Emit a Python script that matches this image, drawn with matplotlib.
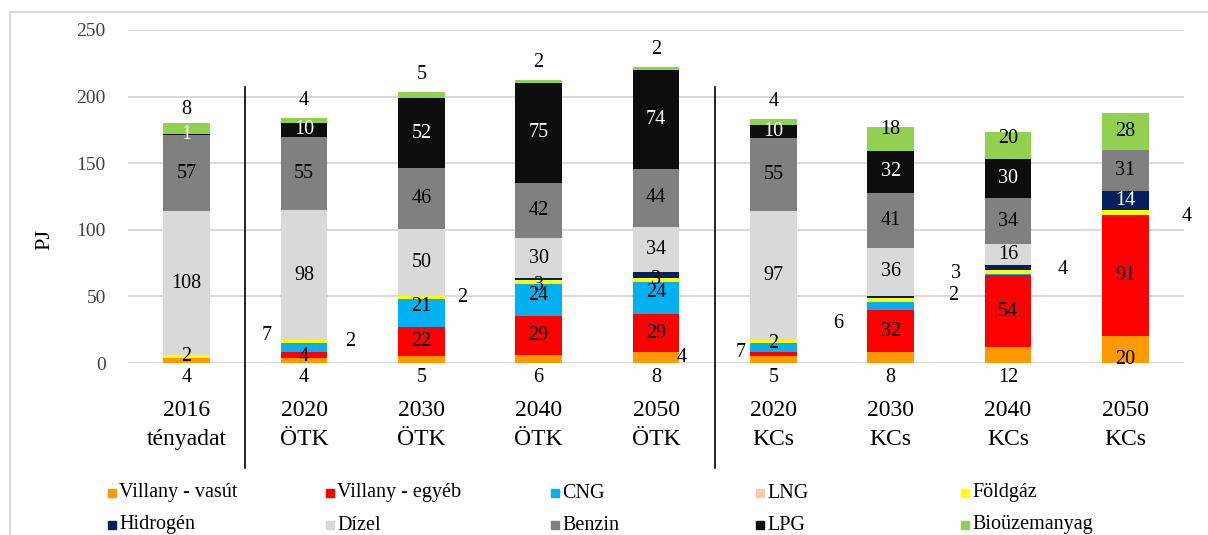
import matplotlib
matplotlib.use('Agg')
import matplotlib.pyplot as plt
import matplotlib.patches as patches
import numpy as np

plt.rcParams['font.family'] = ['Liberation Serif', 'DejaVu Serif']

categories = ['2016\ntényadat', '2020\nÖTK', '2030\nÖTK', '2040\nÖTK', '2050\nÖTK',
              '2020\nKCs', '2030\nKCs', '2040\nKCs', '2050\nKCs']

series_names = ['Villany - vasút', 'Villany - egyéb', 'CNG', 'LNG', 'Földgáz',
                'Hidrogén', 'Dízel', 'Benzin', 'LPG', 'Bioüzemanyag']
colors = ['#FF9900', '#FF0000', '#00B0F0', '#F8CBAD', '#FFFF00',
          '#002060', '#D9D9D9', '#808080', '#0D0D0D', '#92D050']

villany_vasut = [4, 4, 5, 6, 8, 5, 8, 12, 20]
villany_egyeb = [0, 4, 22, 29, 29, 3, 32, 54, 91]
cng = [0, 7, 21, 24, 24, 7, 6, 0.5, 0]
lng = [0, 0, 0, 0, 0, 0, 0, 0, 0]
foldgaz = [2, 2, 2, 3, 3, 2, 2.5, 3, 4]
hidrogen = [0, 0, 0.6, 1.5, 4, 0, 2, 4, 14]
dizel = [108, 98, 50, 30, 34, 97, 36, 16, 0]
benzin = [57, 55, 46, 42, 44, 55, 41, 34, 31]
lpg = [1, 10, 52, 75, 74, 10, 32, 30, 0]
bio = [8, 4, 5, 2, 2, 4, 18, 20, 28]

values = [villany_vasut, villany_egyeb, cng, lng, foldgaz,
          hidrogen, dizel, benzin, lpg, bio]

# where each label goes: c = centre of segment, a = above bar, b = below axis, '' = none
label_at = [
    ['b', 'b', 'b', 'b', 'b', 'b', 'b', 'b', 'c'],
    ['', 'c', 'c', 'c', 'c', '', 'c', 'c', 'c'],
    ['', 'c', 'c', 'c', 'c', 'c', 'c', '', ''],
    [''] * 9,
    ['c', 'c', 'c', 'c', 'c', 'c', '', 'c', 'c'],
    ['', '', '', '', 'c', '', 'c', 'c', 'c'],
    ['c'] * 8 + [''],
    ['c'] * 9,
    ['c'] * 8 + [''],
    ['a', 'a', 'a', 'a', 'a', 'a', 'c', 'c', 'c'],
]
white_labels = ['LPG', 'Hidrogén']

# manual nudges (dx in bar units, dy in PJ) for labels moved off their segment
nudge = {
    ('Villany - vasút', 8): (0, -7),
    ('Villany - egyéb', 1): (0, -1),
    ('CNG', 1): (-0.32, 9),
    ('CNG', 2): (0, 5),
    ('CNG', 3): (0, 4),
    ('CNG', 4): (0, 4),
    ('CNG', 5): (-0.28, -3.5),
    ('CNG', 6): (-0.45, -13),
    ('Földgáz', 1): (0.39, 0.5),
    ('Földgáz', 2): (0.35, 0.5),
    ('Földgáz', 3): (0, -2),
    ('Földgáz', 5): (0, -1),
    ('Földgáz', 7): (-0.44, -0.5),
    ('Földgáz', 8): (0.52, -3),
    ('Hidrogén', 4): (0.22, -62),
    ('Hidrogén', 6): (0.53, 1),
    ('Hidrogén', 7): (0.47, -1.5),
    ('Bioüzemanyag', 0): (0, -3),
    ('Bioüzemanyag', 6): (0, 7),
    ('Bioüzemanyag', 7): (0, 5),
}

fig = plt.figure(figsize=(12.08, 5.35), dpi=100)
ax = fig.add_axes([128 / 1208, 1 - 363 / 535, (1184 - 128) / 1208, (363 - 30) / 535])

x = np.arange(len(categories))
width = 0.4
bottom = np.zeros(len(categories))
for name, vals, col in zip(series_names, values, colors):
    vals = np.array(vals, dtype=float)
    ax.bar(x, vals, width, bottom=bottom, color=col, label=name, zorder=2)
    bottom = bottom + vals
totals = bottom.copy()

bottom = np.zeros(len(categories))
for k, (name, vals) in enumerate(zip(series_names, values)):
    for i, v in enumerate(vals):
        mode = label_at[k][i]
        if mode and v > 0:
            dx, dy = nudge.get((name, i), (0, 0))
            if mode == 'c':
                y = bottom[i] + v / 2
            elif mode == 'a':
                y = totals[i] + 13
            else:
                y = -11
            col = 'white' if (name in white_labels and mode == 'c' and dx == 0) else 'black'
            ax.text(x[i] + dx, y + dy, f'{v:.0f}', ha='center', va='center',
                    fontsize=14.5, color=col, zorder=3, clip_on=False)
    bottom = bottom + np.array(vals, dtype=float)

ax.set_xlim(-0.5, len(categories) - 0.5)
ax.set_ylim(0, 250)
ax.set_yticks(range(0, 251, 50))
ax.yaxis.grid(True, color='#D9D9D9', linewidth=1.5, zorder=0)
ax.set_axisbelow(True)
for s in ax.spines.values():
    s.set_visible(False)
ax.tick_params(axis='y', length=0, labelsize=14, pad=16, labelcolor='#404040')
ax.set_xticks(x)
ax.set_xticklabels(categories, fontsize=17, linespacing=1.45)
ax.tick_params(axis='x', length=0, pad=27)
ax.set_ylabel('PJ', fontsize=16)
ax.yaxis.set_label_coords(-74 / 1056, 0.37)

# scenario separators
for sep in [0.5, 4.5]:
    ax.plot([sep, sep], [207, -79], color='black', linewidth=1.2, clip_on=False, zorder=3)

# legend laid out like the original: 5 columns, filled row by row
col_px = [112, 330, 555, 760, 965]
row_px = [493, 525]
for k, (name, col) in enumerate(zip(series_names, colors)):
    px = col_px[k % 5]
    py = row_px[k // 5]
    fig.patches.append(patches.Rectangle(((px - 4) / 1208, 1 - (py + 4) / 535), 8 / 1208, 8 / 535,
                                         transform=fig.transFigure, color=col))
    fig.text((px + 7) / 1208, 1 - py / 535, name, fontsize=14.5, va='center', ha='left')

frame = patches.Rectangle((10 / 1208, -0.1), 1.2, 1.1 - 12 / 535, transform=fig.transFigure,
                          fill=False, edgecolor='#D9D9D9', linewidth=1.5, clip_on=False)
fig.patches.append(frame)

fig.savefig('out.png', dpi=100)
